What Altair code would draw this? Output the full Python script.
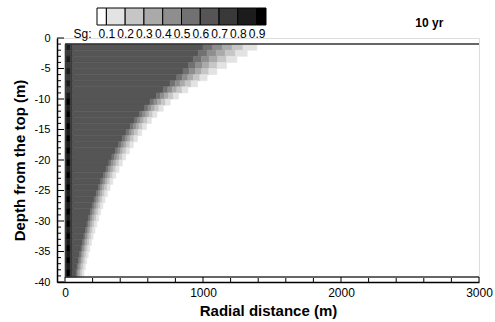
import altair as alt
import pandas as pd

FONT = "Liberation Sans"

# ---- contour levels and grey shades (Tecplot legend) ----
SG_LEVELS = [0.1, 0.2, 0.3, 0.4, 0.5, 0.6, 0.7, 0.8, 0.9]
GRAYS = ["#ffffff", "#e3e3e3", "#c6c6c6", "#aaaaaa", "#8e8e8e",
         "#717171", "#555555", "#393939", "#1c1c1c", "#000000"]
# legend boxes: lower / upper Sg of each box and its shade value
LEGEND_LO = [0.05, 0.1, 0.2, 0.3, 0.4, 0.5, 0.6, 0.7, 0.8, 0.9]
LEGEND_HI = [0.1, 0.2, 0.3, 0.4, 0.5, 0.6, 0.7, 0.8, 0.9, 0.95]
LEGEND_SG = [0.05, 0.15, 0.25, 0.35, 0.45, 0.55, 0.65, 0.75, 0.85, 0.95]

# ---- grid rows (depth, m) ----
DEPTH_EDGES = [-1.0, -2.0, -3.0, -4.0, -5.0, -6.0, -7.0, -8.0, -9.0, -10.0,
               -11.0, -12.0, -13.0, -14.0, -15.0, -16.0, -17.0, -18.0, -19.0, -20.0,
               -21.0, -22.0, -23.0, -24.0, -25.0, -26.0, -27.0, -28.0, -29.0, -30.0,
               -31.0, -32.0, -33.0, -34.0, -35.0, -36.0, -37.0, -38.0, -39.2]

# ---- radial position (m) where Sg drops below each level, per row ----
X60 = [1000, 965, 930, 895, 855, 810, 762, 712, 662, 617, 577, 540, 505, 473, 443,
       415, 389, 364, 340, 318, 297, 278, 259, 242, 226, 211, 197, 184, 171, 159,
       148, 137, 126, 116, 106, 97, 88, 80]
X50 = [1070, 1030, 988, 945, 900, 850, 798, 745, 691, 644, 602, 563, 527, 494, 464,
       435, 408, 383, 358, 335, 314, 294, 275, 257, 241, 225, 211, 197, 184, 172,
       160, 149, 138, 128, 117, 108, 99, 90]
X40 = [1140, 1095, 1045, 995, 945, 890, 834, 777, 720, 670, 626, 586, 549, 515, 484,
       455, 427, 401, 376, 353, 331, 310, 290, 272, 255, 239, 225, 211, 197, 184,
       173, 161, 150, 139, 128, 119, 109, 100]
X30 = [1210, 1160, 1105, 1045, 990, 930, 870, 810, 750, 697, 651, 609, 571, 536, 504,
       475, 446, 419, 394, 370, 348, 326, 306, 287, 270, 253, 239, 224, 210, 197,
       185, 173, 162, 151, 139, 130, 120, 111]
X20 = [1290, 1235, 1170, 1103, 1042, 977, 913, 848, 784, 728, 680, 636, 597, 562, 529,
       499, 470, 442, 416, 391, 368, 346, 325, 306, 288, 271, 256, 241, 227, 213,
       201, 189, 177, 165, 154, 144, 134, 124]
X10 = [1390, 1320, 1245, 1170, 1100, 1030, 960, 890, 822, 762, 712, 666, 626, 590, 556,
       525, 495, 466, 440, 415, 391, 368, 346, 326, 307, 290, 274, 258, 244, 230,
       217, 204, 192, 180, 168, 157, 147, 137]

# near-well column: edges (m) and Sg of the core strip per row
COLUMN_EDGES = [0, 12, 38, 55]
COLUMN_SG = 0.75
CORE_SG = [0.85, 0.75, 0.85, 0.75, 0.85, 0.75, 0.85, 0.75, 0.85, 0.95,
           0.85, 0.95, 0.85, 0.95, 0.85, 0.95, 0.85, 0.95, 0.85, 0.95,
           0.85, 0.95, 0.85, 0.95, 0.85, 0.95, 0.85, 0.95, 0.85, 0.95,
           0.85, 0.95, 0.85, 0.95, 0.85, 0.95, 0.85, 0.95]
BAND_SG = [0.65, 0.55, 0.45, 0.35, 0.25, 0.15]

# ---- model domain boundary lines ----
BOUNDARY_DEPTH = [-1.0, -39.2]
BOUNDARY_X = [0, 3000]

# ---- axes ----
X_LABELS = [0, 1000, 2000, 3000]
X_MINOR = [200, 400, 600, 800, 1200, 1400, 1600, 1800, 2200, 2400, 2600, 2800]
Y_LABELS = [0, -5, -10, -15, -20, -25, -30, -35, -40]
Y_MINOR = [-1, -2, -3, -4, -6, -7, -8, -9, -11, -12, -13, -14, -16, -17, -18, -19,
           -21, -22, -23, -24, -26, -27, -28, -29, -31, -32, -33, -34, -36, -37, -38, -39]
X_TITLE = "Radial distance (m)"
Y_TITLE = "Depth from the top (m)"

# ---- build cell table ----
rows = []
for i in range(len(DEPTH_EDGES) - 1):
    y0, y1 = DEPTH_EDGES[i], DEPTH_EDGES[i + 1]
    segs = [
        (COLUMN_EDGES[0], COLUMN_EDGES[1], COLUMN_SG),
        (COLUMN_EDGES[1], COLUMN_EDGES[2], CORE_SG[i]),
        (COLUMN_EDGES[2], COLUMN_EDGES[3], COLUMN_SG),
    ]
    edges = [COLUMN_EDGES[3], X60[i], X50[i], X40[i], X30[i], X20[i], X10[i]]
    for k, sg in enumerate(BAND_SG):
        segs.append((edges[k], edges[k + 1], sg))
    for a, b, sg in segs:
        rows.append({"x0": a, "x1": b, "y0": y0, "y1": y1, "sg": sg})
cells = pd.DataFrame(rows)

xs = alt.Scale(domain=[-58, 3000], nice=False, zero=False)
ys = alt.Scale(domain=[-40, 0], nice=False, zero=False)
cscale = alt.Scale(type="threshold", domain=SG_LEVELS, range=GRAYS)

AX_X = alt.Axis(
    values=X_LABELS, format="d", ticks=False, tickSize=0, grid=False, labelFlush=False,
    labelOverlap=False, domainColor="black", domainWidth=1.5,
    labelFont=FONT, labelFontSize=12, labelColor="black", labelPadding=5,
    titleFont=FONT, titleFontSize=15, titleFontWeight="bold", titleColor="black",
    titlePadding=5)
AX_Y = alt.Axis(
    values=Y_LABELS, ticks=False, tickSize=0, grid=False, labelOverlap=False,
    labelExpr="'' + datum.value", domainColor="black", domainWidth=1.5,
    labelFont=FONT, labelFontSize=11, labelColor="black", labelPadding=7,
    titleFont=FONT, titleFontSize=15, titleFontWeight="bold", titleColor="black",
    titlePadding=7)


def X(field):
    return alt.X(field, scale=xs, axis=AX_X, title=X_TITLE)


def Y(field):
    return alt.Y(field, scale=ys, axis=AX_Y, title=Y_TITLE)


contour = alt.Chart(cells).mark_rect(strokeWidth=0.6).encode(
    x=X("x0:Q"), x2="x1:Q", y=Y("y0:Q"), y2="y1:Q",
    color=alt.Color("sg:Q", scale=cscale, legend=None),
    stroke=alt.Stroke("sg:Q", scale=cscale, legend=None),
)

boundary = alt.Chart(pd.DataFrame({
    "y": BOUNDARY_DEPTH, "x0": [BOUNDARY_X[0]] * 2, "x1": [BOUNDARY_X[1]] * 2
})).mark_rule(color="#333333", strokeWidth=1.5).encode(
    y=Y("y:Q"), x=X("x0:Q"), x2="x1:Q")

H = 244
xt_major = alt.Chart(pd.DataFrame({"v": X_LABELS})).mark_rule(color="black").encode(
    x=X("v:Q"), y=alt.value(H), y2=alt.value(H - 5))
xt_minor = alt.Chart(pd.DataFrame({"v": X_MINOR})).mark_rule(color="black").encode(
    x=X("v:Q"), y=alt.value(H), y2=alt.value(H - 4))
yt_major = alt.Chart(pd.DataFrame({"v": Y_LABELS})).mark_rule(color="black").encode(
    y=Y("v:Q"), x=alt.value(0), x2=alt.value(7))
yt_minor = alt.Chart(pd.DataFrame({"v": Y_MINOR})).mark_rule(color="black").encode(
    y=Y("v:Q"), x=alt.value(0), x2=alt.value(4))

main = alt.layer(contour, boundary, xt_major, xt_minor, yt_major, yt_minor)

# ---- Tecplot-style contour legend (boxes with level labels at the boundaries) ----
legend_scale = alt.Scale(domain=[LEGEND_LO[0], LEGEND_HI[-1]], range=[40, 209],
                         nice=False, zero=False)
legend = alt.Chart(pd.DataFrame({"lo": LEGEND_LO, "hi": LEGEND_HI, "sg": LEGEND_SG})
                   ).mark_rect(stroke="black", strokeWidth=1).encode(
    x=alt.X("lo:Q", scale=legend_scale, axis=alt.Axis(
        orient="top", values=SG_LEVELS, format=".1f", domain=False, ticks=False,
        tickSize=0, grid=False, labelFlush=False, labelOverlap=False,
        offset=-2.5, labelPadding=0,
        labelFont=FONT, labelFontSize=12, labelColor="black",
        title="Sg:", titleX=16, titleY=0, titleAngle=0, titleAlign="left",
        titleBaseline="bottom", titleFont=FONT, titleFontSize=12,
        titleFontWeight="normal", titleColor="black")),
    x2="hi:Q",
    y=alt.value(-30), y2=alt.value(-13),
    color=alt.Color("sg:Q", scale=cscale, legend=None),
)

chart = alt.layer(main, legend).resolve_scale(x="independent").properties(
    width=422, height=H,
    padding={"left": 57, "top": 38, "right": 16, "bottom": 40},
    autosize=alt.AutoSizeParams(type="none"),
    title=alt.TitleParams("10 yr", anchor="end", dx=-49, dy=32, offset=10, fontSize=12,
                          font=FONT, fontWeight="bold", color="black"),
).configure_view(stroke=None).configure(background="white")

chart.save("out.html", embed_options={"renderer": "svg", "actions": False})
